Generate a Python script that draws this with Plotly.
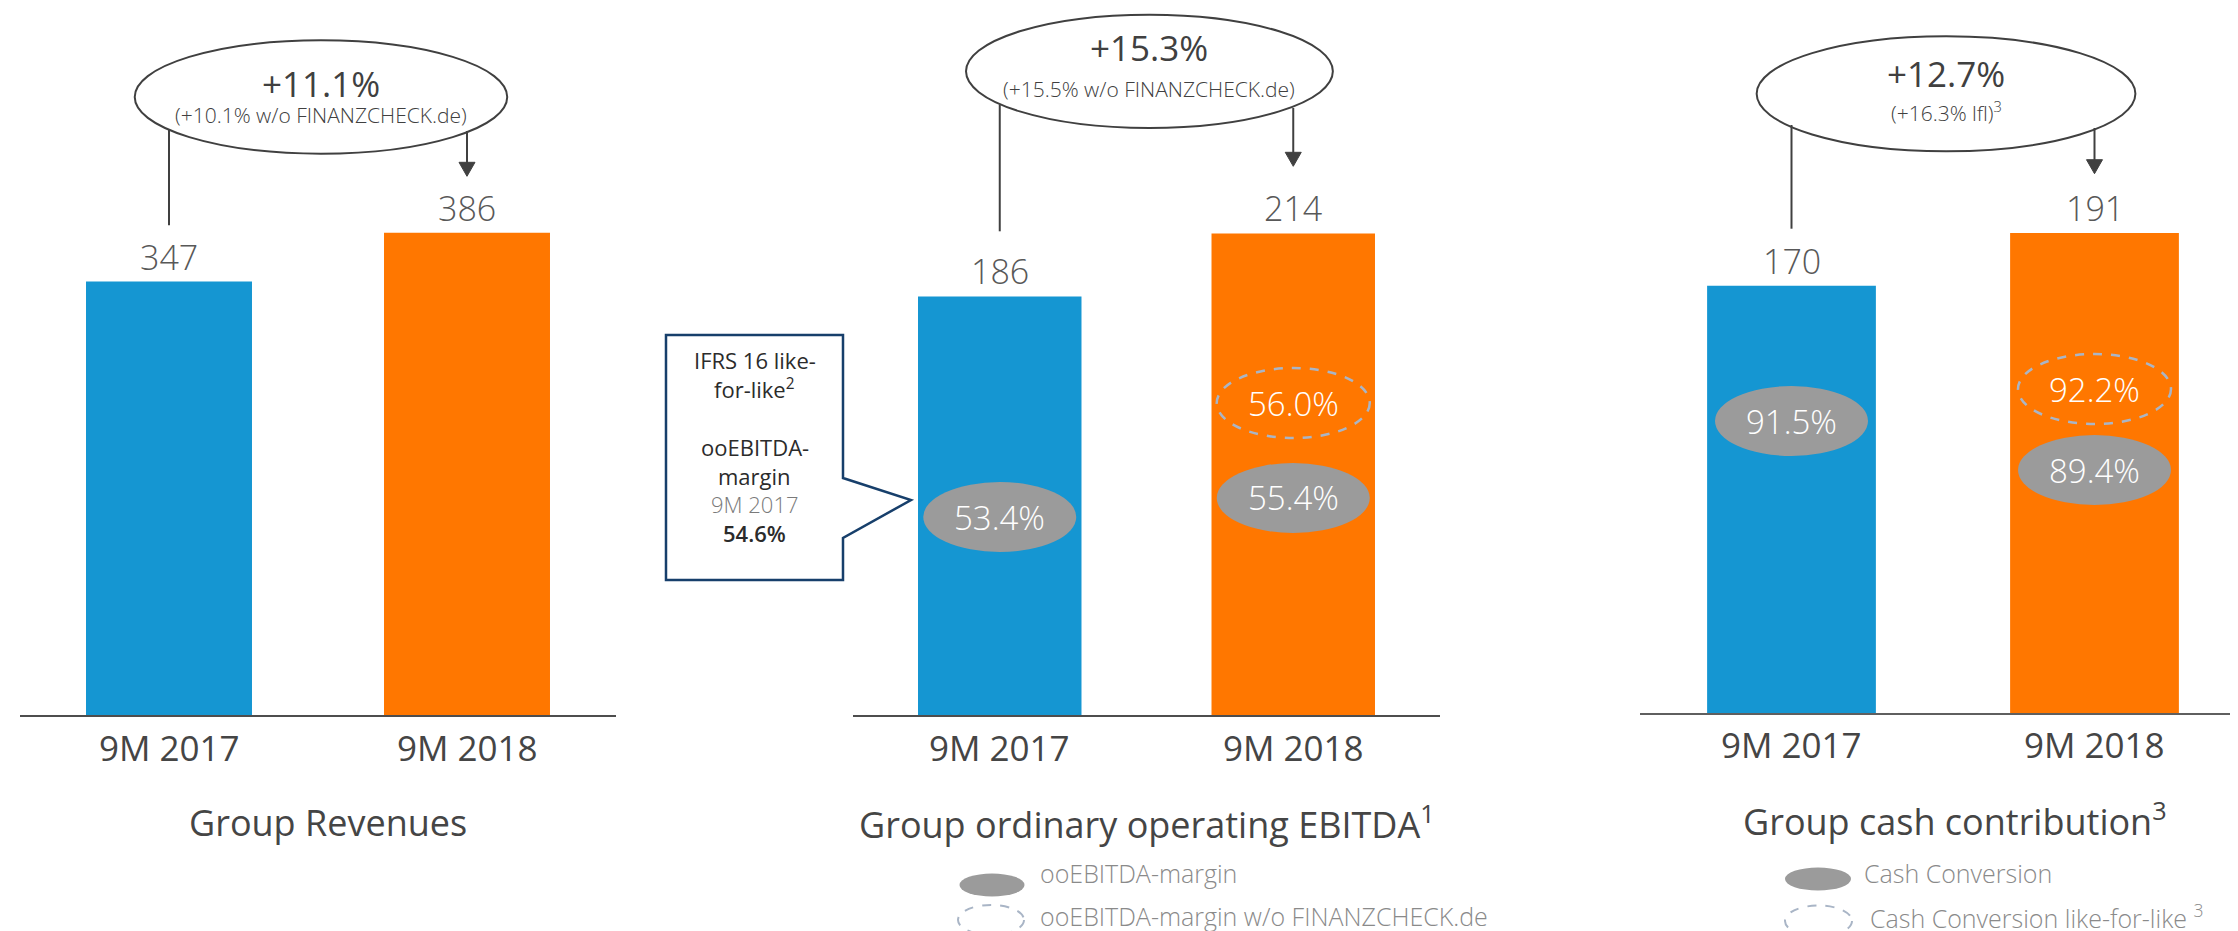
import plotly.graph_objects as go

# ---------------- data ----------------
categories = ["9M 2017", "9M 2018"]
revenues = [347, 386]
ebitda = [186, 214]
cash_contribution = [170, 191]
ebitda_margin = ["53.4%", "55.4%"]
ebitda_margin_wo_fc = "56.0%"
cash_conversion = ["91.5%", "89.4%"]
cash_conversion_lfl = "92.2%"
growth_main = ["+11.1%", "+15.3%", "+12.7%"]
growth_sub = ["(+10.1% w/o FINANZCHECK.de)", "(+15.5% w/o FINANZCHECK.de)", "(+16.3% lfl)<sup>3</sup>"]
titles = ["Group Revenues", "Group ordinary operating EBITDA<sup>1</sup>", "Group cash contribution<sup>3</sup>"]
callout_lines = ["IFRS 16 like-", "for-like<sup>2</sup>", "ooEBITDA-", "margin", "9M 2017", "54.6%"]
legend_ebitda = ["ooEBITDA-margin", "ooEBITDA-margin w/o FINANZCHECK.de"]
legend_cash = ["Cash Conversion", "Cash Conversion like-for-like <sup>3</sup>"]

# ---------------- style ----------------
W, H = 2238, 931
BASE = 707
BLUE, ORANGE = "#1596D2", "#FF7700"
GREY_FILL = "#9B9B9B"
DASH_COL = "#A9B5C6"
TXT = "#454545"
LINE = "#404040"
FONT = "Open Sans"

panels = [
    dict(values=revenues, dom=(12, 608), base=707, ymax=566, tick_y=739, title=(320, 814)),
    dict(values=ebitda, dom=(845, 1432), base=707, ymax=314.2, tick_y=739, title=(1139, 814)),
    dict(values=cash_contribution, dom=(1632, 2238), base=705, ymax=280.5, tick_y=737, title=(1947, 811.5)),
]

def px(x):
    return x / W

def py(y):
    return (BASE - y) / BASE

def bar_center(p, i):
    d0, d1 = panels[p]["dom"]
    return d0 + (i + 0.5) * (d1 - d0) / 2

fig = go.Figure()
layout_axes = {}
annotations = []
shapes = []

for k, p in enumerate(panels):
    sfx = "" if k == 0 else str(k + 1)
    fig.add_trace(go.Bar(
        x=categories, y=p["values"], marker_color=[BLUE, ORANGE], marker_line_width=0,
        width=0.557, xaxis="x" + sfx, yaxis="y" + sfx, showlegend=False, hoverinfo="x+y",
    ))
    layout_axes["xaxis" + sfx] = dict(
        domain=[px(p["dom"][0]), px(p["dom"][1])], anchor="y" + sfx, range=[-0.5, 1.5],
        showline=True, linecolor="#4D4D4D" if k < 2 else "#5F5F5F", linewidth=2,
        showgrid=False, zeroline=False, ticks="", showticklabels=False, fixedrange=True,
    )
    layout_axes["yaxis" + sfx] = dict(
        domain=[(BASE - p["base"]) / BASE, 1], anchor="x" + sfx, range=[0, p["ymax"]],
        visible=False, fixedrange=True,
    )
    # value labels above bars
    for i, v in enumerate(p["values"]):
        annotations.append(dict(
            xref="x" + sfx, yref="y" + sfx, x=categories[i], y=v, yshift=25, yanchor="middle",
            text=str(v), showarrow=False, font=dict(family=FONT, size=34, color="#585858", weight=300),
        ))
    # category labels
    for i, c in enumerate(categories):
        annotations.append(dict(
            xref="x" + sfx, yref="paper", x=c, y=py(p["tick_y"]), yanchor="middle", xanchor="center",
            text=c, showarrow=False, font=dict(family=FONT, size=35, color=TXT),
        ))
    # panel title
    tx, ty = p["title"]
    annotations.append(dict(xref="paper", yref="paper", x=px(tx), y=py(ty), text=titles[k],
                            showarrow=False, xanchor="center", yanchor="middle",
                            font=dict(family=FONT, size=36, color=TXT)))

# growth ellipses, connector lines and arrows
ell = [
    dict(top=32.3, bot=145.7, main=75, sub=106.7, line=(121.7, 217.3), arrow=(123, 168.3)),
    dict(top=6.7, bot=120, main=39.3, sub=81, line=(96.7, 223.3), arrow=(100, 158.3)),
    dict(top=28.3, bot=143.3, main=65.3, sub=103.3, line=(117, 220.7), arrow=(120, 165.7)),
]
AH_LEN, AH_W = 14, 16
for k, e in enumerate(ell):
    c0, c1 = bar_center(k, 0), bar_center(k, 1)
    sp = c1 - c0
    xl, xr = c0 - 0.115 * sp, c1 + 0.135 * sp
    xc = (xl + xr) / 2
    shapes.append(dict(type="circle", xref="paper", yref="paper", x0=px(xl), x1=px(xr),
                       y0=py(e["bot"]), y1=py(e["top"]), line=dict(color=LINE, width=2),
                       fillcolor="rgba(0,0,0,0)"))
    annotations.append(dict(xref="paper", yref="paper", x=px(xc), y=py(e["main"]), text=growth_main[k],
                            showarrow=False, xanchor="center", yanchor="middle",
                            font=dict(family=FONT, size=35, color=LINE)))
    annotations.append(dict(xref="paper", yref="paper", x=px(xc), y=py(e["sub"]), text=growth_sub[k],
                            showarrow=False, xanchor="center", yanchor="middle",
                            font=dict(family=FONT, size=21, color=LINE, weight=300)))
    # connector from 2017 bar
    shapes.append(dict(type="line", xref="paper", yref="paper", x0=px(c0), x1=px(c0),
                       y0=py(e["line"][0]), y1=py(e["line"][1]), line=dict(color=LINE, width=2)))
    # arrow to 2018 bar
    a0, a1 = e["arrow"]
    shapes.append(dict(type="line", xref="paper", yref="paper", x0=px(c1), x1=px(c1),
                       y0=py(a0), y1=py(a1 - AH_LEN + 1), line=dict(color=LINE, width=2)))
    tri = (f"M {px(c1 - AH_W / 2):.5f},{py(a1 - AH_LEN):.5f} L {px(c1 + AH_W / 2):.5f},{py(a1 - AH_LEN):.5f} "
           f"L {px(c1):.5f},{py(a1):.5f} Z")
    shapes.append(dict(type="path", xref="paper", yref="paper", path=tri,
                       line=dict(color=LINE, width=1), fillcolor=LINE))

# margin ellipses inside bars
EW, EH = 153, 70
def margin_ellipse(xc, yc, label, dashed):
    shapes.append(dict(type="circle", xref="paper", yref="paper", x0=px(xc - EW / 2), x1=px(xc + EW / 2),
                       y0=py(yc + EH / 2), y1=py(yc - EH / 2),
                       line=dict(color=DASH_COL, width=2.5, dash="dash") if dashed else dict(width=0),
                       fillcolor="rgba(0,0,0,0)" if dashed else GREY_FILL))
    annotations.append(dict(xref="paper", yref="paper", x=px(xc), y=py(yc), text=label, showarrow=False,
                            xanchor="center", yanchor="middle",
                            font=dict(family=FONT, size=33, color="white", weight=300)))

margin_ellipse(bar_center(1, 0), 509, ebitda_margin[0], False)
margin_ellipse(bar_center(1, 1), 490, ebitda_margin[1], False)
margin_ellipse(bar_center(1, 1), 395, ebitda_margin_wo_fc, True)
margin_ellipse(bar_center(2, 0), 413, cash_conversion[0], False)
margin_ellipse(bar_center(2, 1), 462, cash_conversion[1], False)
margin_ellipse(bar_center(2, 1), 381, cash_conversion_lfl, True)

# callout box
pts = [(658, 327), (835, 327), (835, 470), (903, 492), (835, 530), (835, 572), (658, 572)]
path = "M " + " L ".join(f"{px(x):.5f},{py(y):.5f}" for x, y in pts) + " Z"
shapes.append(dict(type="path", xref="paper", yref="paper", path=path,
                   line=dict(color="#173F6B", width=2.5), fillcolor="white"))
callout_y = [352, 380.6, 438.5, 467.5, 496, 524.8]
callout_style = [
    dict(color="#2B2B2B", weight=400), dict(color="#2B2B2B", weight=400),
    dict(color="#2B2B2B", weight=400), dict(color="#2B2B2B", weight=400),
    dict(color="#7A7A7A", weight=300), dict(color="#2B2B2B", weight=600),
]
for line, yy, st in zip(callout_lines, callout_y, callout_style):
    annotations.append(dict(xref="paper", yref="paper", x=px(746.5), y=py(yy), text=line, showarrow=False,
                            xanchor="center", yanchor="middle",
                            font=dict(family=FONT, size=22, color=st["color"], weight=st["weight"])))

# legends
def legend_item(xc, yc, w, h, dashed, tx, ty, label):
    shapes.append(dict(type="circle", xref="paper", yref="paper", x0=px(xc - w / 2), x1=px(xc + w / 2),
                       y0=py(yc + h / 2), y1=py(yc - h / 2),
                       line=dict(color=DASH_COL, width=2, dash="dash") if dashed else dict(width=0),
                       fillcolor="rgba(0,0,0,0)" if dashed else GREY_FILL))
    annotations.append(dict(xref="paper", yref="paper", x=px(tx), y=py(ty), text=label, showarrow=False,
                            xanchor="left", yanchor="middle",
                            font=dict(family=FONT, size=25, color="#8A8A8A", weight=300)))

legend_item(984, 877, 65, 23, False, 1030, 865, legend_ebitda[0])
legend_item(983, 912, 66, 30, True, 1030, 908, legend_ebitda[1])
legend_item(1810, 871, 66, 23, False, 1854, 865, legend_cash[0])
legend_item(1810.5, 913, 67, 31, True, 1860, 908, legend_cash[1])

fig.update_layout(
    width=W, height=H, margin=dict(l=0, r=0, t=0, b=H - BASE, pad=0),
    paper_bgcolor="white", plot_bgcolor="white",
    annotations=annotations, shapes=shapes, showlegend=False,
    **layout_axes,
)
fig.write_html("out.html")
